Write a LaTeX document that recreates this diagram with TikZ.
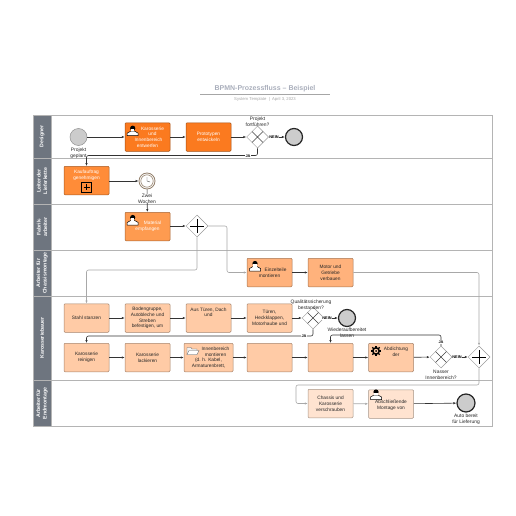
\documentclass[tikz,border=0pt]{standalone}
\usepackage{fontspec}
\setmainfont{Liberation Sans}
\usetikzlibrary{arrows.meta,shapes.geometric}
\definecolor{laneline}{HTML}{B4B4B4}
\definecolor{lanehead}{HTML}{6E757F}
\definecolor{taskA}{HTML}{FB7A1F}
\definecolor{taskB}{HTML}{FF8C38}
\definecolor{taskC}{HTML}{FE9B50}
\definecolor{taskD}{HTML}{FFB27C}
\definecolor{taskE}{HTML}{FFCBA6}
\definecolor{taskF}{HTML}{FFE3D0}
\definecolor{edgegray}{HTML}{A8A8A8}
\definecolor{titlegray}{HTML}{A9AEBB}
\tikzset{
  task/.style={draw=#1!65!black,fill=#1,rounded corners=1pt,line width=0.5pt,text=black!85,
    minimum width=45pt,minimum height=28.5pt,inner sep=0.5pt,align=center,
    font=\fontsize{4.8}{5.8}\selectfont},
  gate/.style={diamond,aspect=1,draw=gray!80,fill=white,line width=0.5pt,
    minimum size=22pt,inner sep=0pt},
  flow/.style={->,line width=0.6pt,black!80,rounded corners=2pt},
  grayflow/.style={->,line width=0.6pt,edgegray,rounded corners=2pt},
  lbl/.style={font=\fontsize{4.9}{5.8}\selectfont,text=black!85,align=center,inner sep=0pt},
  flowlbl/.style={font=\fontsize{3.9}{4}\selectfont\bfseries,fill=white,inner sep=0.4pt},
  lanetxt/.style={rotate=90,text=white,font=\fontsize{5.2}{6.6}\selectfont\bfseries,align=center,inner sep=0pt},
  eventstart/.style={circle,draw=gray!85,fill=gray!40,line width=0.5pt,minimum size=17pt,inner sep=0pt},
  eventend/.style={circle,draw=black!85,fill=gray!40,line width=1.2pt,minimum size=17pt,inner sep=0pt},
}
\newcommand{\usericon}[2]{%
  \fill[white,draw=black,line width=0.5pt] (#1-5.5,#2+5) -- (#1-5.5,#2+2.5) -- (#1-2,#2+0.5) -- (#1+2,#2+0.5) -- (#1+5.5,#2+2.5) -- (#1+5.5,#2+5) -- cycle;
  \fill[black] (#1,#2-2.5) circle (2.6pt);
  \fill[white] (#1-1.6,#2-1.8) rectangle (#1+1.6,#2+0.6);
}
\begin{document}
\begin{tikzpicture}[x=1pt,y=-1pt,>={Latex[length=3pt,width=2.4pt]}]
\useasboundingbox (0,0) rectangle (516,516);

% Title
\node[font=\fontsize{7}{8}\selectfont\bfseries,text=titlegray] (title) at (265,89) {BPMN-Prozessfluss – Beispiel};
\draw[gray!70,line width=0.5pt] (200,94.5) -- (330,94.5);
\node[font=\fontsize{4.2}{5}\selectfont,text=gray!70] (subtitle) at (265,99.5) {System Template \ | \ April 3, 2023};

% Lanes
\draw[laneline,line width=0.6pt] (33,115) rectangle (492,426.5);
\foreach \y in {158,204,250,296,380}{
    \draw[laneline,line width=0.6pt] (33,\y) -- (492,\y);
}
\foreach \ya/\yb/\lab in {115/158/Designer,158/204/{Leiter der\\Lieferkette},204/250/{Fabrik-\\arbeiter},250/296/{Arbeiter für\\Chassismontage},296/380/Karosseriebauer,380/426.5/{Arbeiter für\\Endmontage}}{
    \fill[lanehead,draw=laneline,line width=0.4pt] (33,\ya) rectangle (51,\yb);
    \node[lanetxt] at (42,{(\ya+\yb)/2}) {\lab};
}

% Events
\node[eventstart] (start) at (78.5,137) {};
\node[eventend] (endproto) at (294,137) {};
\node[eventend] (endquali) at (347,318) {};
\node[eventend,minimum size=18pt] (endauto) at (466,403) {};
\node[circle,draw=gray!70!brown,fill=white,line width=0.8pt,minimum size=16pt,inner sep=0pt] (timer) at (147,181) {};

% Tasks, first rows
\node[task=taskA,text=white] (design) at (147.5,137) {\hspace*{10pt}Karosserie\\\hspace*{10pt}und\\\hspace*{2pt}Innenbereich\\entwerfen};
\node[task=taskA,text=white] (proto) at (208.5,137) {Prototypen\\entwickeln};
\node[task=taskB,text=white] (kauf) at (86.5,180.5) {Kaufauftrag\\genehmigen\\~\\~};
\node[task=taskC,text=white] (material) at (147.5,226.5) {\hspace*{10pt}Material\\empfangen};
\node[task=taskD] (einzel) at (269.5,272.5) {\hspace*{12pt}Einzelteile\\montieren};
\node[task=taskD] (motor) at (330.5,272.5) {Motor und\\Getriebe\\verbauen};

% Tasks, Karosseriebauer
\node[task=taskE] (stahl) at (86.5,318) {Stahl stanzen};
\node[task=taskE] (boden) at (147.5,318) {Bodengruppe,\\Autobleche und\\Streben\\befestigen, um};
\node[task=taskE] (tueren) at (208.5,318) {Aus Türen, Dach\\und\\~\\~};
\node[task=taskE] (klappen) at (269.5,318) {Türen,\\Heckklappen,\\Motorhaube und};
\node[task=taskE] (reinigen) at (86.5,357.5) {Karosserie\\reinigen};
\node[task=taskE] (lack) at (147.5,357.5) {Karosserie\\lackieren};
\node[task=taskE,minimum width=49pt] (innen) at (208.5,357.5) {\hspace*{14pt}Innenbereich\\\hspace*{14pt}montieren\\(d. h. Kabel,\\Armaturenbrett,};
\node[task=taskE] (leerA) at (269.5,357.5) {};
\node[task=taskE] (leerB) at (330.5,357.5) {};
\node[task=taskE] (abdicht) at (391,357.5) {\hspace*{10pt}Abdichtung\\\hspace*{10pt}der\\~\\~};
\node[task=taskF] (chassis) at (330.5,403.5) {Chassis und\\Karosserie\\verschrauben};
\node[task=taskF] (montage) at (391,404) {~\\Abschließende\\Montage von};

% Gateways
\node[gate] (gateproto) at (257.5,137) {};
\node[gate] (gatequali) at (313,318) {};
\node[gate] (gatenass) at (441,357) {};
\node[gate] (parmat) at (197,226) {};
\node[gate] (parend) at (479,357) {};
\foreach \g in {gateproto,gatequali,gatenass}{
    \draw[black!75,line width=0.4pt] (\g.center) +(-5.5,-5.5) -- +(5.5,5.5) +(-5.5,5.5) -- +(5.5,-5.5);
}
\foreach \g in {parmat,parend}{
    \draw[black,line width=0.6pt] (\g.center) +(-7,0) -- +(7,0) +(0,-7) -- +(0,7);
}

% Bends
\coordinate (bendproto) at (170,155.5);
\coordinate (bendquali) at (200,336);
\coordinate (bendnass) at (380,335);
\coordinate (bendstahl) at (140,270);
\coordinate (bendeinzel) at (227,272.5);
\coordinate (bendmotor) at (479,272.5);
\coordinate (bendchassis) at (296,385);

% Flows
\draw[flow] (start) -- (design);
\draw[flow] (design) -- (proto);
\draw[flow] (proto) -- (gateproto);
\draw[flow] (gateproto) -- (endproto);
\draw[flow] (gateproto.south) |- (bendproto) -| (kauf.north);
\draw[flow] (kauf.east |- timer) -- (timer);
\draw[flow] (timer) -- (material);
\draw[flow] (material.east |- parmat) -- (parmat);
\draw[grayflow] (parmat.east) -| (bendeinzel) -- (einzel.west);
\draw[grayflow] (parmat.south) |- (bendstahl) -| (stahl.north);
\draw[flow] (einzel) -- (motor);
\draw[grayflow] (motor.east) -- (bendmotor) -- (parend.north);
\draw[flow] (stahl) -- (boden);
\draw[flow] (boden) -- (tueren);
\draw[flow] (tueren) -- (klappen);
\draw[flow] (klappen) -- (gatequali);
\draw[flow] (gatequali) -- (endquali);
\draw[flow] (gatequali.south) |- (bendquali) -| (reinigen.north);
\draw[flow] (reinigen) -- (lack);
\draw[flow] (lack) -- (innen);
\draw[flow] (innen) -- (leerA);
\draw[flow] (leerA) -- (leerB);
\draw[flow] (leerB) -- (abdicht);
\draw[flow] (abdicht) -- (gatenass);
\draw[flow] (gatenass) -- (parend);
\draw[flow] (gatenass.north) |- (bendnass) -| (leerB.north);
\draw[grayflow] (parend.south) |- (bendchassis) |- (chassis.west);
\draw[grayflow] (chassis) -- (montage);
\draw[flow] (montage) -- (endauto);

% Labels
\node[lbl] (lblstart) at (78.5,153) {Projekt\\geplant};
\node[lbl] (lblproto) at (257.5,121.5) {Projekt\\fortführen?};
\node[lbl,fill=white] (lbltimer) at (147,198.5) {Zwei\\Wochen};
\node[lbl] (lblquali) at (311,305) {Qualitätssicherung\\bestanden?};
\node[lbl] (lblwieder) at (347,333) {Wiederaufbereitet\\lassen};
\node[lbl] (lblnass) at (441,375) {Nasser\\Innenbereich?};
\node[lbl] (lblauto) at (466,419) {Auto bereit\\für Lieferung};
\node[flowlbl] (neinproto) at (274,137) {NEIN};
\node[flowlbl] (neinquali) at (327,318) {NEIN};
\node[flowlbl] (neinnass) at (457,357) {NEIN};
\node[flowlbl] (japroto) at (248,156) {JA};
\node[flowlbl] (jaquali) at (304,336) {JA};
\node[flowlbl] (janass) at (441,342) {JA};

% Task markers
\draw[black,line width=0.5pt] (81.5,182) rectangle (91.5,192);
\draw[black,line width=0.5pt] (83.5,187) -- (89.5,187) (86.5,184) -- (86.5,190);
\usericon{132.7}{130.7}
\usericon{132.7}{220}
\usericon{255}{266}
\usericon{376}{394.5}

% Clock
\draw[gray!70!brown,line width=0.6pt] (timer.center) circle (6.2pt);
\draw[gray!60!black,line width=0.4pt] (timer.center) -- +(0,-4) (timer.center) -- +(3,1);

% Gear
\foreach \a in {0,45,...,315}{
    \draw[black,line width=1.2pt] (376,351) -- +(\a:5.2);
}
\fill[black] (376,351) circle (4pt);
\fill[taskE] (376,351) circle (2.2pt);
\fill[black] (376,351) circle (1pt);

% Folder
\draw[gray!80!black,fill=gray!10,line width=0.4pt] (187,347.5) -- (191,347.5) -- (192,349) -- (197,349) -- (197,354.5) -- (187,354.5) -- cycle;
\draw[gray!80!black,fill=white,line width=0.4pt] (187,354.5) -- (189,350.5) -- (199,350.5) -- (197,354.5) -- cycle;

\end{tikzpicture}
\end{document}
